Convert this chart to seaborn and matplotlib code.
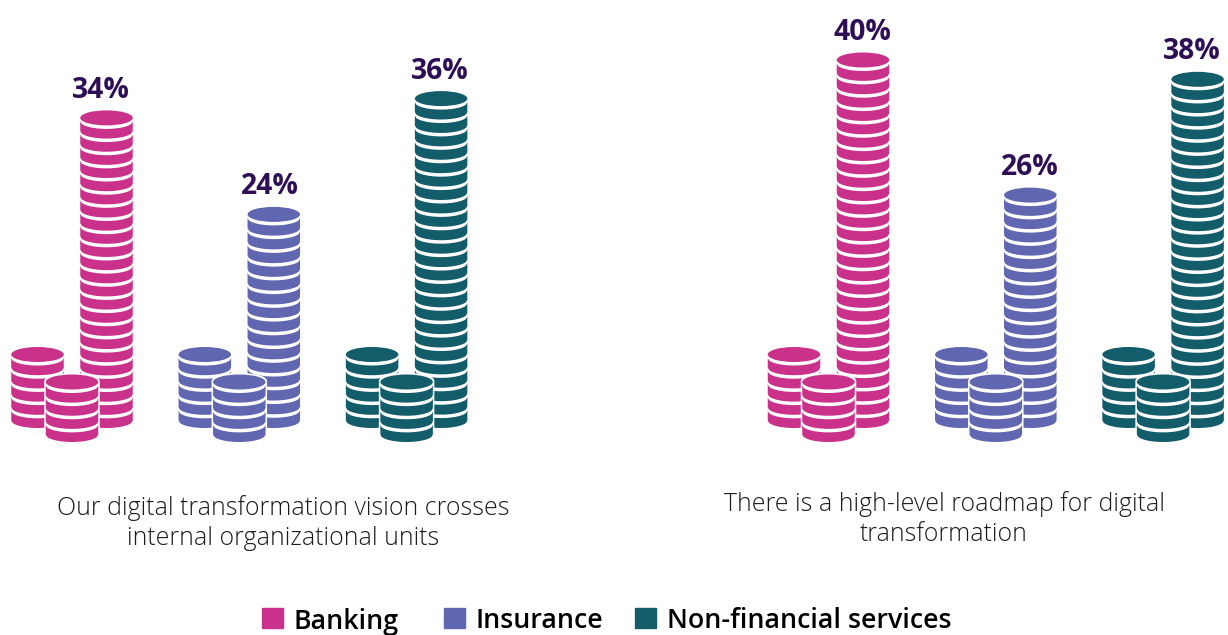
"""
Coin stack chart: digital transformation answers per sector
"""

# Imports
import numpy as np
import pandas as pd
import matplotlib.pyplot as plt
import seaborn as sns
from matplotlib.patches import Patch, Polygon, Ellipse

# Data
sectors = ["Banking", "Insurance", "Non-financial services"]
vision_values = [34, 24, 36]
roadmap_values = [40, 26, 38]
vision_title = "Our digital transformation vision crosses\ninternal organizational units"
roadmap_title = "There is a high-level roadmap for digital\ntransformation"
sector_colors = ["#C9318A", "#6066B0", "#135C69"]
label_color = "#2E0F55"

# Figure geometry, in pixels
W, H = 1228, 635
PX_X = 167.3   # one category step
PX_Y = 9.65    # one percentage point
ZERO_Y = 438.5 # pixel row of 0%
COIN_W = 52.5
RY = 7.5       # half height of a coin's top ellipse
GAP = 3.5
PITCH = 13.3
BASE = (ZERO_Y - 428) / PX_Y   # value where the stacks stand


def dx(px):
    return px / PX_X


def dy(px):
    return px / PX_Y


def draw_stack(ax, cx, top, bottom, color, n=None, zorder=3, halo=False):
    """Stack with `top` and `bottom` in data units, drawn as curved bands."""
    half = COIN_W / 2
    band_top = top - dy(RY + GAP)
    span = (band_top - bottom) / dy(1) - RY + GAP
    if n is None:
        n = max(1, round(span / PITCH))
    pitch = span / n
    t = np.linspace(-1, 1, 41)
    arc = RY * np.sqrt(1 - t ** 2)
    xs = cx + dx(half * t)

    if halo:
        # white outline so the front stack separates from the ones behind
        xh = cx + dx((half + 1.5) * t)
        pts = np.r_[np.c_[xh, top - dy(RY) + dy(arc + 1.5)],
                    np.c_[xh[::-1], bottom + dy(RY) - dy(arc[::-1] + 1.5)]]
        ax.add_patch(Polygon(pts, closed=True, fc="white", ec="none", zorder=zorder))

    ax.add_patch(Ellipse((cx, top - dy(RY)), dx(COIN_W), dy(RY * 2),
                         fc=color, ec="none", zorder=zorder + 0.1))
    for i in range(n):
        y0 = band_top - dy(i * pitch)
        y1 = band_top - dy((i + 1) * pitch - GAP)
        upper = y0 - dy(arc)
        lower = y1 - dy(arc)
        pts = np.r_[np.c_[xs, upper], np.c_[xs[::-1], lower[::-1]]]
        ax.add_patch(Polygon(pts, closed=True, fc=color, ec="none", zorder=zorder + 0.1))


def draw_panel(ax, values, x0, label_shift):
    df = pd.DataFrame({"sector": sectors, "value": values})
    sns.barplot(data=df, x="sector", y="value", hue="sector", palette=sector_colors,
                legend=False, ax=ax)
    ax.set_ylim((ZERO_Y - H) / PX_Y, ZERO_Y / PX_Y)
    pos = ax.get_position()
    ax.set_xlim((pos.x0 * W - x0) / PX_X, (pos.x1 * W - x0) / PX_X)
    ax.axis("off")

    bars = [b for c in ax.containers for b in c]
    for bar, color, shift in zip(bars, sector_colors, label_shift):
        bar.set_alpha(0)
        cx = bar.get_x() + bar.get_width() / 2
        val = bar.get_height()
        # tall stack, short stack behind, short stack in front
        draw_stack(ax, cx, val, BASE, color, zorder=3)
        draw_stack(ax, cx - dx(69), (ZERO_Y - 347) / PX_Y, BASE, color, n=5, zorder=3)
        draw_stack(ax, cx - dx(34.5), (ZERO_Y - 374.5) / PX_Y, (ZERO_Y - 442) / PX_Y,
                   color, n=4, zorder=5, halo=True)
        ax.text(cx + dx(shift), val + dy(20), f"{val:.0f}%", ha="center", va="center",
                fontsize=20.3, fontweight="bold", color=label_color, zorder=6)


def main():
    sns.set_theme(style="white")
    plt.rcParams["font.family"] = ["Open Sans", "DejaVu Sans"]

    fig = plt.figure(figsize=(W / 100, H / 100), dpi=100)
    ax_left = fig.add_axes([0, 0, 0.5, 1])
    ax_right = fig.add_axes([0.5, 0, 0.5, 1])

    draw_panel(ax_left, vision_values, 106.5, [-6, -4, -1])
    draw_panel(ax_right, roadmap_values, 863, [-1, -1, -6])

    # captions
    fig.text(283 / W, 1 - 523 / H, vision_title, ha="center", va="center",
             fontsize=17.9, fontweight="light", color="#1c1c1c", linespacing=1.3)
    fig.text(944 / W, 1 - 519 / H, roadmap_title, ha="center", va="center",
             fontsize=17.9, fontweight="light", color="#1c1c1c", linespacing=1.3)

    # legend, one entry at a time because the gaps are not even
    for sector, color, left in zip(sectors, sector_colors, [262, 444, 635]):
        leg = fig.legend(handles=[Patch(color=color, label=sector)], loc="center left",
                         bbox_to_anchor=(left / W, 1 - 620.5 / H), frameon=False, borderpad=0,
                         borderaxespad=0, handlelength=0.8, handleheight=0.8,
                         handletextpad=0.38, labelcolor="black",
                         prop={"size": 19.3, "weight": 600})
        for text in leg.get_texts():
            text.set_y(-1)  # labels sit a little lower than the squares

    fig.savefig("out.png", dpi=100)
    plt.close(fig)


# Entry point
if __name__ == "__main__":
    main()
